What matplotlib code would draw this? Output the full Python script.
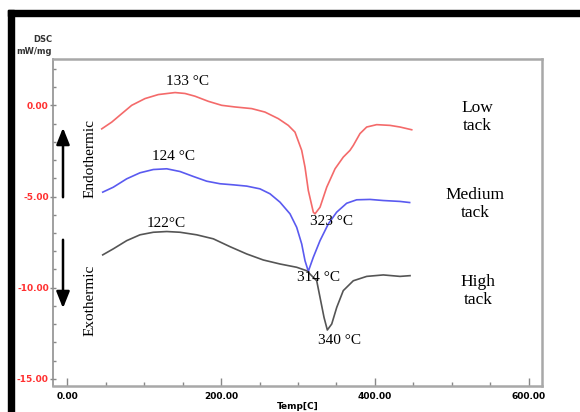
import matplotlib
matplotlib.use("Agg")
import matplotlib.pyplot as plt
from matplotlib.ticker import MultipleLocator, FormatStrFormatter
from matplotlib.patches import Rectangle

# ---- data ----
low_T = [45.1, 58.1, 71.0, 84.0, 101.3, 118.6, 140.3, 153.2, 166.2, 183.5, 200.9, 218.2,
         239.9, 257.1, 274.4, 287.4, 296.1, 304.8, 309.1, 313.4, 319.9, 322.1, 328.6, 337.3,
         348.1, 358.8, 367.5, 371.8, 380.5, 389.2, 402.2, 419.5, 432.5, 447.7]
low_v = [-1.29, -0.92, -0.46, 0.00, 0.37, 0.59, 0.70, 0.65, 0.50, 0.22, 0.00, -0.09,
         -0.18, -0.37, -0.73, -1.10, -1.47, -2.47, -3.39, -4.67, -5.86, -5.95, -5.59, -4.49,
         -3.48, -2.84, -2.47, -2.20, -1.55, -1.19, -1.06, -1.10, -1.19, -1.34]

med_T = [46.4, 60.1, 77.5, 94.8, 112.1, 129.5, 146.8, 164.0, 181.4, 198.7, 216.0, 233.4,
         250.6, 263.6, 276.6, 289.6, 298.3, 304.8, 309.1, 313.4, 319.9, 328.6, 339.4, 350.2,
         363.2, 376.2, 393.5, 410.8, 432.5, 445.0]
med_v = [-4.76, -4.49, -4.03, -3.70, -3.52, -3.48, -3.63, -3.90, -4.16, -4.30, -4.36, -4.43,
         -4.58, -4.85, -5.31, -5.95, -6.69, -7.60, -8.52, -9.10, -8.33, -7.42, -6.50, -5.86,
         -5.37, -5.18, -5.16, -5.22, -5.27, -5.33]

high_T = [46.4, 60.1, 77.5, 94.8, 112.1, 129.5, 146.8, 168.4, 190.0, 211.7, 233.4, 254.9,
          276.6, 298.3, 311.3, 324.3, 328.6, 333.8, 338.1, 343.8, 350.3, 358.8, 371.8, 389.2,
          410.8, 432.5, 445.5]
high_v = [-8.20, -7.87, -7.42, -7.10, -6.96, -6.92, -6.96, -7.10, -7.32, -7.75, -8.15, -8.48,
          -8.70, -8.88, -9.07, -9.62, -10.53, -11.63, -12.32, -11.99, -11.08, -10.16, -9.62,
          -9.38, -9.30, -9.38, -9.34]

peak_labels = ["133 °C", "124 °C", "122°C", "323 °C", "314 °C", "340 °C"]
peak_pos = [(157, 1.28), (138, -2.80), (129, -6.47), (344, -6.36), (326, -9.43), (354, -12.87)]

sample_names = ["Low\ntack", "Medium\ntack", "High\ntack"]
sample_pos = [(0.867, 0.823), (0.863, 0.557), (0.869, 0.291)]

xticks = [0, 200, 400, 600]
yticks = [0, -5, -10, -15]

# ---- figure ----
fig = plt.figure(figsize=(5.8, 4.12), dpi=100)
ax = fig.add_axes([53/580, 1-386/412, (542-53)/580, (386-59)/412])

ax.plot(low_T, low_v, color="#f46a6a", lw=1.2)
ax.plot(med_T, med_v, color="#5a5af0", lw=1.2)
ax.plot(high_T, high_v, color="#555555", lw=1.2)

ax.set_xlim(-18.2, 616.9)
ax.set_ylim(-15.39, 2.54)

ax.set_xticks(xticks)
ax.set_yticks(yticks)
ax.xaxis.set_minor_locator(MultipleLocator(50))
ax.yaxis.set_minor_locator(MultipleLocator(1))
ax.xaxis.set_major_formatter(FormatStrFormatter("%.2f"))
ax.yaxis.set_major_formatter(FormatStrFormatter("%.2f"))
ax.tick_params(axis="x", which="major", direction="in", length=6, width=1, color="#888888",
               labelsize=6.5, pad=4)
ax.tick_params(axis="x", which="minor", direction="in", length=3, width=1, color="#888888")
ax.tick_params(axis="y", which="major", direction="inout", length=5, width=1, color="#888888",
               labelsize=6.5, labelcolor="#ff3030", pad=0.5)
ax.tick_params(axis="y", which="minor", direction="in", length=2.5, width=1, color="#888888")
for lab in ax.get_xticklabels() + ax.get_yticklabels():
    lab.set_fontweight("bold")
    lab.set_family("DejaVu Sans")

for side in ["left", "right", "top", "bottom"]:
    ax.spines[side].set_color("#a8a8a8")
    ax.spines[side].set_linewidth(1.8)
ax.spines["left"].set_linewidth(1.2)
ax.spines["left"].set_color("#909090")

ax.set_xlabel("Temp[C]", fontsize=6.5, fontweight="bold", labelpad=1)

serif = "Liberation Serif"
for txt, (x, y) in zip(peak_labels, peak_pos):
    ax.text(x, y, txt, ha="center", va="center", fontsize=11, family=serif)

for txt, (x, y) in zip(sample_names, sample_pos):
    ax.text(x, y, txt, transform=ax.transAxes, ha="center", va="center",
            fontsize=12.5, family=serif, linespacing=1.15)

ax.text(90/580, 1-159/412, "Endothermic", transform=fig.transFigure, rotation=90,
        ha="center", va="center", fontsize=11, family=serif)
ax.text(90/580, 1-300/412, "Exothermic", transform=fig.transFigure, rotation=90,
        ha="center", va="center", fontsize=11, family=serif)

# arrows
ax.annotate("", xy=(63/580, 1-125/412), xytext=(63/580, 1-200/412),
            xycoords="figure fraction", textcoords="figure fraction",
            arrowprops=dict(arrowstyle="-|>,head_width=0.4,head_length=1.0",
                            color="black", lw=1.8))
ax.annotate("", xy=(63/580, 1-311/412), xytext=(63/580, 1-237/412),
            xycoords="figure fraction", textcoords="figure fraction",
            arrowprops=dict(arrowstyle="-|>,head_width=0.4,head_length=1.0",
                            color="black", lw=1.8))

fig.text(52/580, 1-40/412, "DSC", ha="right", va="center", fontsize=6, fontweight="bold",
         color="#333333")
fig.text(52/580, 1-52/412, "mW/mg", ha="right", va="center", fontsize=6, fontweight="bold",
         color="#333333")

# black border bars
fig.patches.append(Rectangle((8/580, 0), 6/580, 1-10/412, transform=fig.transFigure,
                             color="black", zorder=10))
fig.patches.append(Rectangle((8/580, 1-16/412), 1-8/580, 6/412, transform=fig.transFigure,
                             color="black", zorder=10))

fig.savefig("out.png", dpi=100)
